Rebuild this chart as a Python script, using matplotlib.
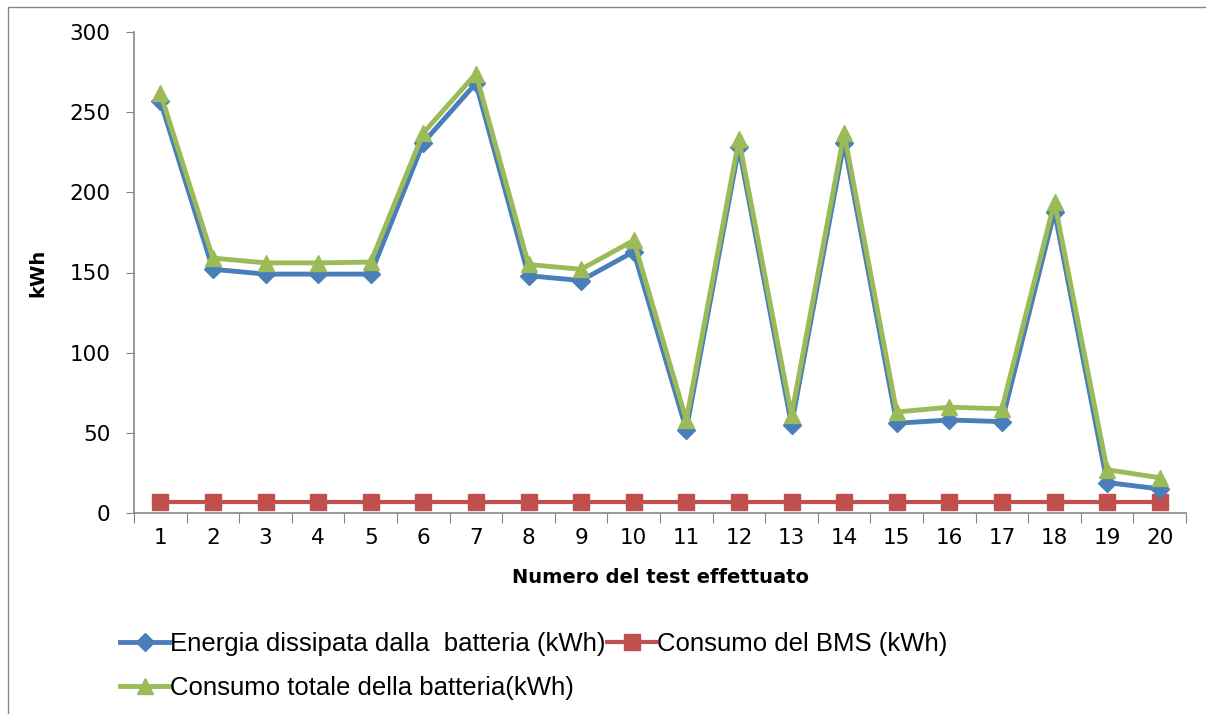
import matplotlib
matplotlib.use("Agg")
import matplotlib.pyplot as plt
from matplotlib.patches import Rectangle

tests = list(range(1, 21))
energia = [257, 152, 149, 149, 149, 231, 268, 148, 145, 163,
           52, 228, 55, 231, 56, 58, 57, 188, 19, 15]
bms = [7] * 20
totale = [262, 159, 156, 156, 156.5, 237, 274, 155, 152, 170,
          58, 233, 61, 237, 63, 66, 65, 194, 27, 22]

labels = ["Energia dissipata dalla  batteria (kWh)",
          "Consumo del BMS (kWh)",
          "Consumo totale della batteria(kWh)"]

blue = "#4A7EBB"
red = "#C0504D"
green = "#9BBB59"
axis_grey = "#868686"

plt.rcParams["font.family"] = "DejaVu Sans"

fig = plt.figure(figsize=(12.06, 7.14), dpi=100)
fig.patches.append(Rectangle((8 / 1206, -0.1), 1.2, 1 - 7 / 714 + 0.1,
                             transform=fig.transFigure, fill=False,
                             edgecolor=axis_grey, linewidth=1.0))

ax = fig.add_axes([134 / 1206, 1 - 513 / 714, (1186 - 134) / 1206, (513 - 32) / 714])

l1, = ax.plot(tests, energia, color=blue, lw=3.5, marker="D", ms=9, label=labels[0], zorder=3)
l2, = ax.plot(tests, bms, color=red, lw=3, marker="s", ms=11, label=labels[1], zorder=2)
l3, = ax.plot(tests, totale, color=green, lw=3.5, marker="^", ms=12, label=labels[2], zorder=4)

ax.set_xlim(0.5, 20.5)
ax.set_ylim(0, 300)
ax.set_yticks(range(0, 301, 50))
ax.tick_params(axis="y", labelsize=15.5, length=6, color=axis_grey, pad=11)

ax.set_xticks([i + 0.5 for i in range(0, 21)])
ax.set_xticklabels([])
ax.set_xticks(tests, minor=True)
ax.set_xticklabels([str(t) for t in tests], minor=True)
ax.tick_params(axis="x", which="major", length=7, color=axis_grey)
ax.tick_params(axis="x", which="minor", length=0, labelsize=15.5, pad=11)

for s in ["top", "right"]:
    ax.spines[s].set_visible(False)
for s in ["left", "bottom"]:
    ax.spines[s].set_color(axis_grey)
    ax.spines[s].set_linewidth(1.2)

ax.set_ylabel("kWh", fontsize=14, fontweight="bold", labelpad=16)
ax.set_xlabel("Numero del test effettuato", fontsize=14, fontweight="bold", labelpad=14)

# column-first fill, so order gives row 1: energia, bms / row 2: totale
leg = ax.legend([l1, l3, l2], [labels[0], labels[2], labels[1]],
                loc="upper left", bbox_to_anchor=(-0.035, -0.2), ncol=2,
                frameon=False, handlelength=1.9, handletextpad=0.05,
                columnspacing=0.05, labelspacing=0.75,
                prop={"family": "Liberation Sans", "size": 18.5})

fig.savefig("out.png", dpi=100)
